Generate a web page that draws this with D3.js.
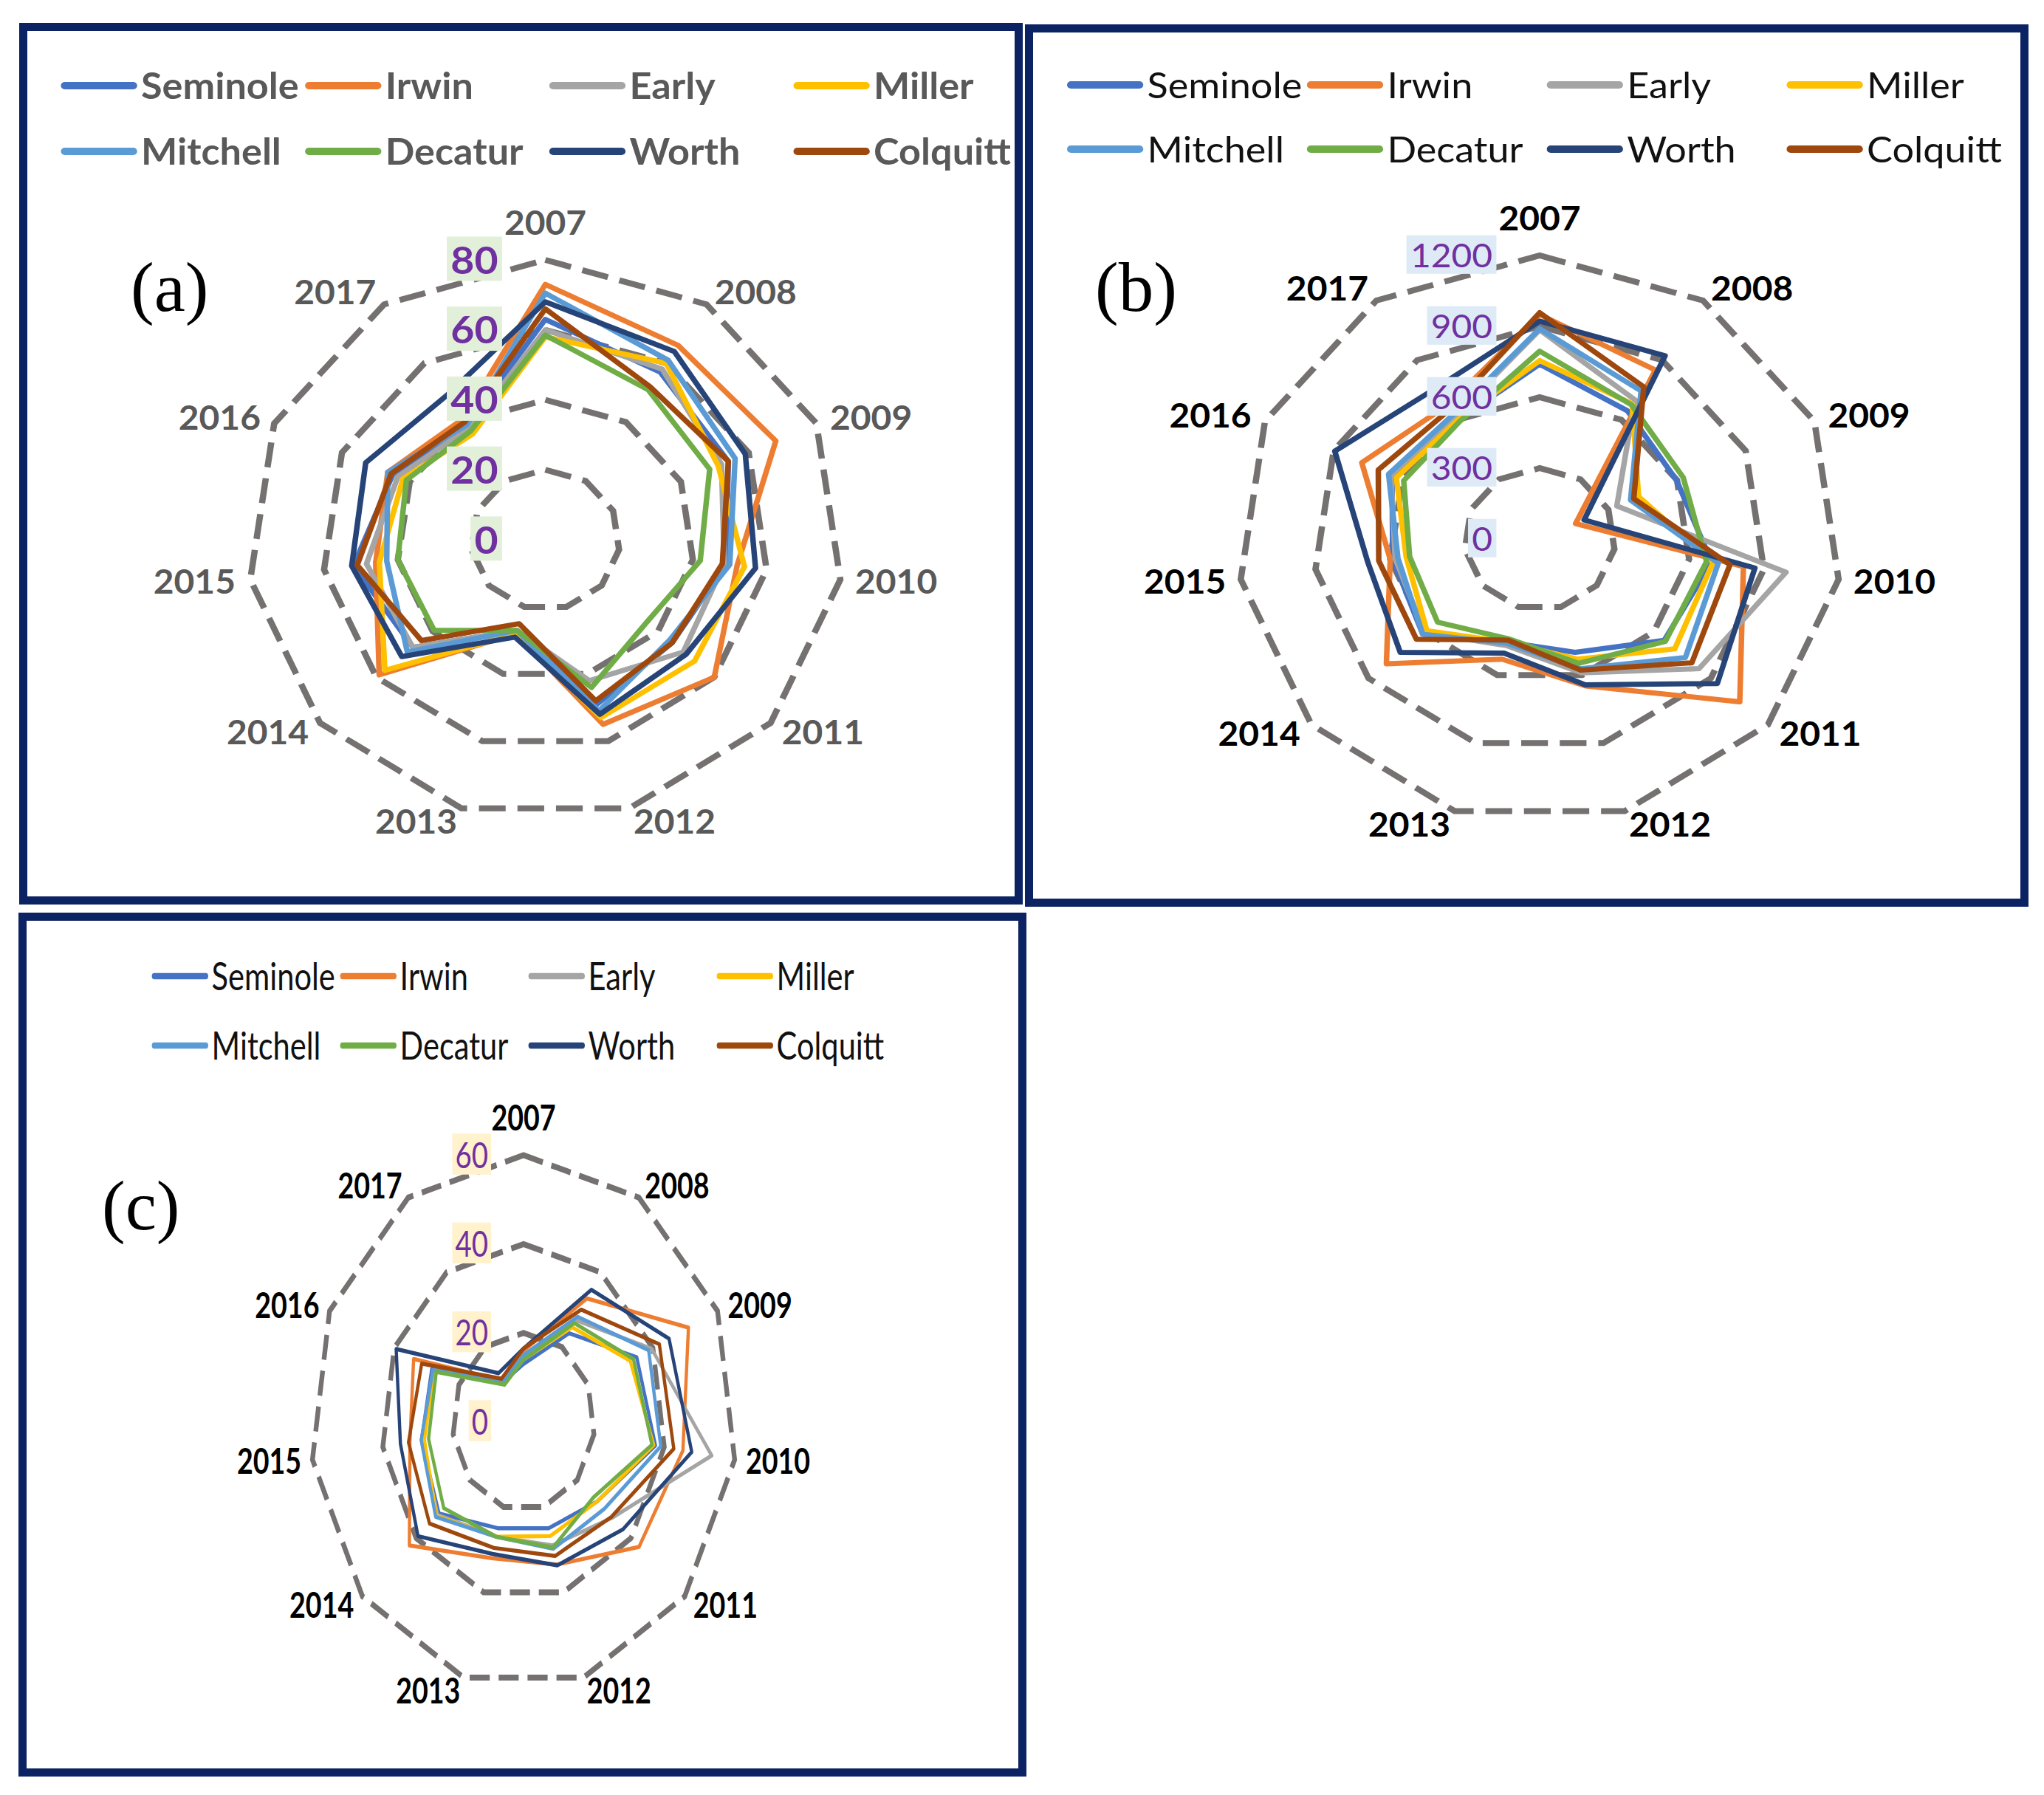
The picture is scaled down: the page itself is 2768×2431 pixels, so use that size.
<!DOCTYPE html>
<html>
<head>
<meta charset="utf-8">
<script src="https://cdn.jsdelivr.net/npm/d3@7"></script>
<style>
  html, body { margin: 0; padding: 0; background: #fff; }
  svg { display: block; }
</style>
</head>
<body>
<svg id="fig" width="2768" height="2431"></svg>
<script>
const years = ['2007', '2008', '2009', '2010', '2011', '2012', '2013', '2014', '2015', '2016', '2017'];
const counties = ['Seminole', 'Irwin', 'Early', 'Miller', 'Mitchell', 'Decatur', 'Worth', 'Colquitt'];
const countyColors = ['#4472c4', '#ed7d31', '#a5a5a5', '#ffc000', '#5b9bd5', '#70ad47', '#264478', '#9e480e'];

// panel (a)
const ticksA = [0, 20, 40, 60, 80];
const aSeminole = [63, 57, 54, 49, 45, 49, 27, 47, 52, 45, 39];
const aIrwin    = [73, 66, 68, 52, 60, 55, 28, 59, 46, 46.5, 41];
const aEarly    = [60, 58, 52, 48.5, 49, 42, 27, 47, 48.5, 43.5, 38];
const aMiller   = [58, 60, 51, 54, 53, 53, 28, 57, 45, 42, 36];
const aMitchell = [70.5, 61, 56, 50, 44, 51, 27, 49, 43, 46.5, 39];
const aDecatur  = [58.5, 51, 48.5, 42, 36, 44, 27, 39.5, 40, 41, 37];
const aWorth    = [68, 64, 59, 57, 50, 52, 29, 51, 52.5, 53, 49];
const aColquitt = [66, 52, 54, 48, 45, 48, 25, 44, 51, 45.5, 40];

// panel (b)
const ticksB = [0, 300, 600, 900, 1200];
const bSeminole = [740, 645, 598, 690, 655, 500, 455, 615, 590, 645, 600];
const bIrwin    = [950, 850, 157, 818, 1052, 648, 530, 806, 600, 777, 675];
const bEarly    = [885, 700, 337, 989, 838, 590, 470, 605, 580, 650, 620];
const bMiller   = [755, 680, 432, 696, 710, 530, 455, 593, 536, 626, 600];
const bMitchell = [890, 745, 397, 717, 766, 572, 460, 615, 569, 660, 630];
const bDecatur  = [795, 675, 627, 670, 661, 548, 440, 537, 522, 594, 590];
const bWorth    = [922, 922, 194, 864, 934, 643, 503, 733, 690, 895, 760];
const bColquitt = [958, 765, 411, 764, 800, 578, 446, 648, 646, 705, 655];

// panel (c)
const ticksC = [0, 20, 40, 60];
const cSeminole = [13, 23.7, 35, 37.5, 27.4, 25, 25, 31.5, 29, 28.4, 10.6];
const cIrwin    = [16, 33, 51, 45.3, 43, 33.5, 32, 42.5, 32.3, 34, 11];
const cEarly    = [14.5, 27.2, 39.6, 53.5, 33, 29, 27, 32, 29, 28, 10.6];
const cMiller   = [14, 25.3, 33, 37, 27.4, 26.8, 27, 32.4, 28.2, 27.6, 10.6];
const cMitchell = [15, 28.1, 38.7, 39, 30, 29.8, 27, 32.7, 29.1, 28, 10.6];
const cDecatur  = [14, 26.4, 34, 36.5, 26, 29.5, 27, 29.7, 27, 27, 9.9];
const cWorth    = [16.5, 35.3, 45, 47.8, 37, 33.7, 31, 39.3, 35, 39.4, 13];
const cColquitt = [16.5, 30, 42, 42.7, 32.7, 31.5, 29.6, 35, 32.7, 31.5, 11.5];

const svg = d3.select('#fig');
svg.append('rect').attr('width', 2768).attr('height', 2431).attr('fill', '#fff');

const panels = [
  {
    tag: '(a)', tagX: 177, tagY: 421,
    frame: [26, 31, 1385, 1225],
    origin: [26, 31], sx: 1.065, cx: 669, cy: 700, R: 379,
    series: [aSeminole, aIrwin, aEarly, aMiller, aMitchell, aDecatur, aWorth, aColquitt],
    ticks: ticksA, lineW: 7,
    legendX: 54, legendStep: 310.5, legendRows: [85, 174],
    legendSize: 49, legendWeight: 700, textColor: '#595959',
    catSize: 45, catColor: '#595959',
    tickSize: 52, tickWeight: 700, tickBg: '#e2f0d9'
  },
  {
    tag: '(b)', tagX: 1483, tagY: 421,
    frame: [1388, 33, 2747, 1228],
    origin: [1388, 33], sx: 1.065, cx: 654.5, cy: 697, R: 384,
    series: [bSeminole, bIrwin, bEarly, bMiller, bMitchell, bDecatur, bWorth, bColquitt],
    ticks: ticksB, lineW: 7,
    legendX: 54.5, legendStep: 305, legendRows: [82, 169],
    legendSize: 49, legendWeight: 400, textColor: '#111',
    catSize: 45, catColor: '#000',
    tickSize: 45, tickWeight: 400, tickBg: '#deebf7'
  },
  {
    tag: '(c)', tagX: 138, tagY: 1665,
    frame: [25, 1236, 1390, 2406],
    origin: [25, 1236], sx: 0.8, cx: 855, cy: 689.5, R: 361,
    series: [cSeminole, cIrwin, cEarly, cMiller, cMitchell, cDecatur, cWorth, cColquitt],
    ticks: ticksC, lineW: 5.5,
    legendX: 226, legendStep: 318.75, legendRows: [86, 180],
    legendSize: 52, legendWeight: 400, textColor: '#111',
    catSize: 47, catColor: '#000',
    tickSize: 48, tickWeight: 400, tickBg: '#fff2cc'
  }
];

const FONT = 'Lato, "Open Sans", sans-serif';

panels.forEach(p => {
  const g = svg.append('g')
    .attr('transform', `translate(${p.origin[0]},${p.origin[1]}) scale(${p.sx},1)`);

  const r = d3.scaleLinear().domain([0, d3.max(p.ticks)]).range([0, p.R]);
  const ang = d3.scaleLinear().domain([0, years.length]).range([0, 2 * Math.PI]);
  const radial = d3.lineRadial()
    .angle((d, i) => ang(i))
    .radius(d => r(d))
    .curve(d3.curveLinearClosed);

  const plot = g.append('g').attr('transform', `translate(${p.cx},${p.cy})`);

  // dashed grid rings
  plot.append('g').selectAll('path')
    .data(p.ticks.filter(t => t > 0))
    .join('path')
    .attr('d', t => radial(years.map(() => t)))
    .attr('fill', 'none')
    .attr('stroke', '#767171')
    .attr('stroke-width', 8)
    .attr('stroke-dasharray', '34 15');

  // series
  plot.append('g').selectAll('path')
    .data(p.series)
    .join('path')
    .attr('d', d => radial(d))
    .attr('fill', 'none')
    .attr('stroke', (d, i) => countyColors[i])
    .attr('stroke-width', p.lineW)
    .attr('stroke-linejoin', 'round');

  // axis tick labels with coloured boxes
  const tl = plot.append('g').selectAll('g')
    .data(p.ticks)
    .join('g');
  tl.append('text')
    .attr('x', -60)
    .attr('y', t => -r(t))
    .attr('dy', '0.36em')
    .attr('text-anchor', 'end')
    .attr('font-family', FONT)
    .attr('font-size', p.tickSize)
    .attr('font-weight', p.tickWeight)
    .attr('fill', '#7030a0')
    .text(t => t);
  tl.each(function () {
    const b = d3.select(this).select('text').node().getBBox();
    d3.select(this).insert('rect', 'text')
      .attr('x', b.x - 5).attr('y', b.y + 1)
      .attr('width', b.width + 10).attr('height', b.height - 2)
      .attr('fill', p.tickBg);
  });

  // year labels
  const gap = 19;
  plot.append('g').selectAll('text')
    .data(years)
    .join('text')
    .each(function (d, i) {
      const a = ang(i);
      const dx = Math.sin(a), dy = -Math.cos(a);
      const t = d3.select(this);
      const x = dx * (p.R + gap), y = dy * (p.R + gap);
      if (Math.abs(dx) < 0.05) {
        t.attr('x', x).attr('y', y - 15).attr('text-anchor', 'middle');
      } else {
        t.attr('x', x).attr('y', y).attr('dy', '0.36em')
          .attr('text-anchor', dx > 0 ? 'start' : 'end');
      }
    })
    .attr('font-family', FONT)
    .attr('font-size', p.catSize)
    .attr('font-weight', 700)
    .attr('fill', p.catColor)
    .text(d => d);

  // legend
  const lg = g.append('g').selectAll('g')
    .data(counties)
    .join('g')
    .attr('transform', (d, i) =>
      `translate(${p.legendX + (i % 4) * p.legendStep},${p.legendRows[Math.floor(i / 4)]})`);
  lg.append('line')
    .attr('x1', 4).attr('x2', 91)
    .attr('stroke', (d, i) => countyColors[i])
    .attr('stroke-width', p.lineW + 3)
    .attr('stroke-linecap', 'round');
  lg.append('text')
    .attr('x', 101)
    .attr('dy', '0.36em')
    .attr('font-family', FONT)
    .attr('font-size', p.legendSize)
    .attr('font-weight', p.legendWeight)
    .attr('fill', p.textColor)
    .text(d => d);

  // frame
  const [x0, y0, x1, y1] = p.frame;
  svg.append('rect')
    .attr('x', x0 + 5.5).attr('y', y0 + 5.5)
    .attr('width', x1 - x0 - 11).attr('height', y1 - y0 - 11)
    .attr('fill', 'none')
    .attr('stroke', '#0b2263')
    .attr('stroke-width', 11);

  // panel tag
  svg.append('text')
    .attr('x', p.tagX).attr('y', p.tagY)
    .attr('font-family', '"Liberation Serif", "Times New Roman", serif')
    .attr('font-size', 95)
    .attr('fill', '#000')
    .text(p.tag);
});
</script>
</body>
</html>
